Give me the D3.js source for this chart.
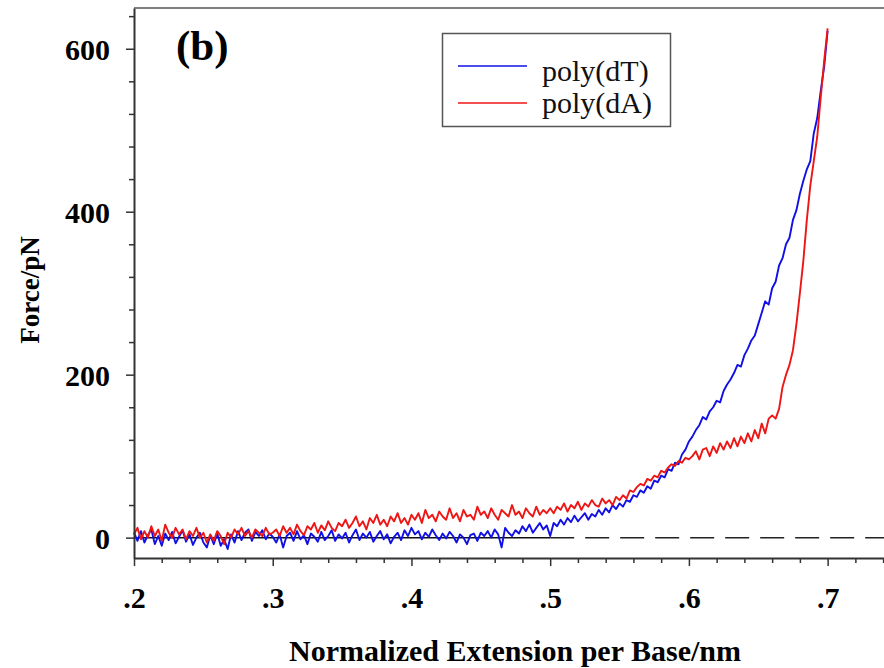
<!DOCTYPE html>
<html>
<head>
<meta charset="utf-8">
<script src="https://cdn.jsdelivr.net/npm/d3@7"></script>
<style>
	body { margin: 0; background: #fff; }
</style>
</head>
<body>
<div id="chart"></div>
<script>
'use strict';

// force-extension traces, sampled every 0.0025 nm from .2 to .7
const extStart = 0.2;
const extStep = 0.0025;

const polyDT = [
	6, -4, 8, -6, 3, 10, -8, 2, -10, 5, -3, 7, -7, 1, 9, -5, 4, -9, 0, 6,
	-6, -12, 3, -8, 5, -10, -2, -14, 4, -6, 8, -3, 6, 10, -4, 7, 2, 9, -2, 5, 1,
	-6, 4, -12, 2, 6, -4, 8, -2, 3, -8, 5, 1, -5, 7, -3, 2, 9, -4, 4, -1,
	6, -6, 3, 10, -3, 5, 0, 7, -5, 2, 8, -2, 4, -7, 1, 6, -3, 9, 2, 12,
	4, 8, -2, 6, 1, 10, 3, -3, 5, -1, 7, 2, -6, 4, 0, -8, 3, 5, -4, 6,
	2, 8, 0, 10, 4, -12, 12, 6, 2, 9, 5, 14, 8, 16, 6, 12, 18, 10, 15, 2,
	18, 14, 22, 16, 24, 19, 27, 20, 25, 30, 22, 29, 26, 34, 28, 36, 31, 40, 35, 42,
	38, 46, 44, 52, 50, 58, 55, 63, 60, 70, 68, 76, 74, 84, 82, 92, 90, 102, 108, 118,
	124, 132, 138, 148, 145, 155, 160, 168, 166, 180, 188, 194, 202, 212, 210, 224, 232, 242, 248, 262,
	276, 290, 286, 306, 314, 334, 343, 360, 368, 390, 402, 422, 438, 452, 462, 496, 515, 548, 578, 622
];

const polyDA = [
	4, 12, -2, 8, 0, 14, 2, 10, -4, 16, 6, 0, 12, 4, 10, -2, 8, 2, 12, 0,
	6, -6, 4, -4, 8, 2, -8, 6, 0, 10, 4, 12, 2, 8, 0, 10, 6, 2, 12, 4, 6,
	10, 2, 14, 6, 12, 4, 16, 8, 3, 14, 10, 18, 6, 15, 9, 20, 12, 8, 18, 14,
	22, 12, 18, 26, 14, 20, 10, 24, 18, 28, 16, 22, 14, 26, 20, 30, 18, 24, 16, 28,
	22, 30, 18, 34, 24, 28, 20, 32, 26, 22, 36, 24, 30, 20, 34, 26, 28, 22, 38, 28,
	32, 24, 36, 28, 22, 34, 30, 26, 40, 28, 32, 24, 36, 30, 26, 38, 28, 34, 30, 36,
	30, 38, 34, 42, 32, 40, 36, 44, 34, 42, 38, 46, 40, 38, 48, 42, 46, 40, 50, 46,
	52, 48, 58, 56, 62, 66, 64, 72, 70, 76, 74, 82, 80, 86, 90, 88, 94, 92, 98, 96,
	100, 106, 96, 108, 110, 100, 112, 104, 116, 108, 118, 110, 122, 112, 124, 116, 128, 118, 132, 122,
	140, 128, 146, 150, 146, 158, 185, 200, 212, 230, 262, 300, 340, 390, 432, 462, 492, 540, 585, 625
];

const seriesNames = ["poly(dT)", "poly(dA)"];
const seriesColors = ["#1010e6", "#ee1515"];

const xMajorTicks = [0.2, 0.3, 0.4, 0.5, 0.6, 0.7];
const yMajorTicks = [0, 200, 400, 600];

const width = 884;
const height = 668;

const svg = d3.select("#chart")
	.append("svg")
		.attr("width", width)
		.attr("height", height)
	;

// plot box: left edge .2, right edge runs past the window
const x = d3.scaleLinear()
	.domain([0.2, 0.75])
	.range([134, 897])
	;
const y = d3.scaleLinear()
	.domain([-25, 650])
	.range([558, 8])
	;

const serif = "'Liberation Serif', 'Times New Roman', serif";
const axisColor = "#333";

// zero line: solid under the noise, dashed past .5
svg.append("line")
	.attr("x1", x(0.2)).attr("x2", x(0.5))
	.attr("y1", y(0)).attr("y2", y(0))
	.attr("stroke", "#111")
	.attr("stroke-width", 1.5)
	;
svg.append("line")
	.attr("x1", x(0.5)).attr("x2", x(0.75))
	.attr("y1", y(0)).attr("y2", y(0))
	.attr("stroke", "#222")
	.attr("stroke-width", 1.5)
	.attr("stroke-dasharray", "24,11")
	;

// traces
const line = d3.line()
	.x((d, i) => x(extStart + i * extStep))
	.y(d => y(d))
	;

[polyDT, polyDA].forEach((s, k) => {
	svg.append("path")
		.datum(s)
		.attr("d", line)
		.attr("fill", "none")
		.attr("stroke", seriesColors[k])
		.attr("stroke-width", 1.9)
		.attr("stroke-linejoin", "round")
		;
});

// axes
const xMinor = d3.range(0.2, 0.7401, 0.02).filter(v => Math.abs(v * 10 - Math.round(v * 10)) > 1e-6);
const yMinor = d3.range(0, 641, 40).filter(v => v % 200 != 0);

const xAxis = svg.append("g")
	.attr("transform", `translate(0,${y.range()[0]})`)
	.call(d3.axisBottom(x).tickValues(xMajorTicks).tickSize(8).tickSizeOuter(0)
		.tickFormat(d => d3.format(".1f")(d).replace(/^0/, "")))
	;
svg.append("g")
	.attr("transform", `translate(0,${y.range()[0]})`)
	.call(d3.axisBottom(x).tickValues(xMinor).tickSize(5).tickSizeOuter(0).tickFormat(""))
	.call(g => g.select(".domain").remove())
	;
xAxis.selectAll("text")
	.attr("y", 50)
	.attr("dy", 0)
	;

const yAxis = svg.append("g")
	.attr("transform", `translate(${x.range()[0]},0)`)
	.call(d3.axisLeft(y).tickValues(yMajorTicks).tickSize(8).tickSizeOuter(0))
	;
svg.append("g")
	.attr("transform", `translate(${x.range()[0]},0)`)
	.call(d3.axisLeft(y).tickValues(yMinor).tickSize(5).tickSizeOuter(0).tickFormat(""))
	.call(g => g.select(".domain").remove())
	;
yAxis.selectAll("text")
	.attr("x", -24)
	.attr("dy", "0.35em")
	;

svg.selectAll(".tick line").attr("stroke", axisColor).attr("stroke-width", 1.5);
svg.selectAll(".domain").attr("stroke", axisColor).attr("stroke-width", 2);
[xAxis, yAxis].forEach(a => a
	.attr("font-family", serif)
	.attr("font-size", 30)
	.attr("font-weight", "bold")
	.selectAll("text").attr("fill", "#000"));

// top frame
svg.append("line")
	.attr("x1", x(0.2)).attr("x2", x(0.75))
	.attr("y1", y(650)).attr("y2", y(650))
	.attr("stroke", "#555")
	.attr("stroke-width", 1.5)
	;

// titles
svg.append("text")
	.attr("x", 515)
	.attr("y", 661)
	.attr("text-anchor", "middle")
	.attr("font-family", serif)
	.attr("font-weight", "bold")
	.attr("font-size", 30)
	.text("Normalized Extension per Base/nm")
	;
svg.append("text")
	.attr("transform", "translate(39,290) rotate(-90)")
	.attr("text-anchor", "middle")
	.attr("font-family", serif)
	.attr("font-weight", "bold")
	.attr("font-size", 27)
	.text("Force/pN")
	;
svg.append("text")
	.attr("x", 176)
	.attr("y", 60)
	.attr("font-family", serif)
	.attr("font-weight", "bold")
	.attr("font-size", 43)
	.text("(b)")
	;

// legend
const legend = svg.append("g");
legend.append("rect")
	.attr("x", 442.5).attr("y", 33.5)
	.attr("width", 228).attr("height", 93)
	.attr("fill", "#fff")
	.attr("stroke", "#555")
	.attr("stroke-width", 1.5)
	;
const legendLineY = [66, 103];
const legendTextY = [81, 113];
seriesNames.forEach((name, k) => {
	legend.append("line")
		.attr("x1", 458).attr("x2", 527)
		.attr("y1", legendLineY[k]).attr("y2", legendLineY[k])
		.attr("stroke", seriesColors[k])
		.attr("stroke-width", 1.6)
		;
	legend.append("text")
		.attr("x", 542)
		.attr("y", legendTextY[k])
		.attr("font-family", serif)
		.attr("font-size", 30)
		.attr("fill", "#111")
		.text(name)
		;
});
</script>
</body>
</html>
